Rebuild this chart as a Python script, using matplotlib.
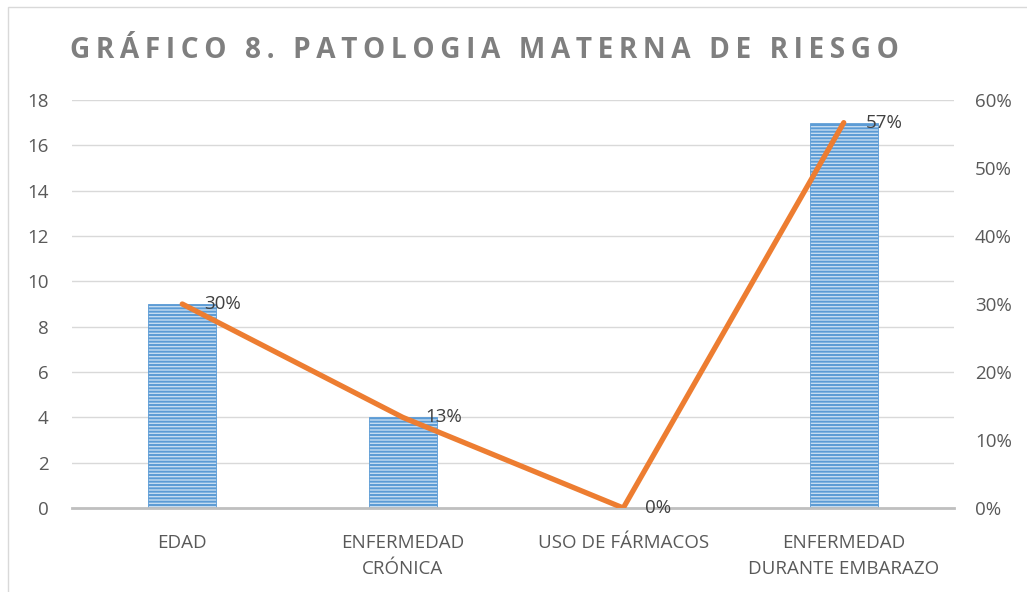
import numpy as np
import matplotlib.pyplot as plt
import matplotlib.ticker as mtick

categorias = ["EDAD", "ENFERMEDAD\nCRÓNICA", "USO DE FÁRMACOS", "ENFERMEDAD\nDURANTE EMBARAZO"]
casos = [9, 4, 0, 17]
porcentaje = [0.30, 0.1333, 0.0, 0.5667]
etiquetas = ["30%", "13%", "0%", "57%"]

plt.rcParams['font.family'] = ['Open Sans', 'DejaVu Sans']
plt.rcParams['hatch.color'] = '#5b9bd5'
plt.rcParams['hatch.linewidth'] = 1.4

fig = plt.figure(figsize=(10.27, 5.92), dpi=100)
ax = fig.add_axes([72/1027, 1-508/592, (954-72)/1027, 408/592])
x = np.arange(len(categorias))

ax.bar(x, casos, width=0.31, color='#c5dcf1', edgecolor='#5b9bd5', hatch='-----', linewidth=0.6, zorder=2)
ax.set_ylim(0, 18)
ax.set_yticks(range(0, 19, 2))
ax.set_xlim(-0.5, 3.5)
ax.set_xticks(x)
ax.set_xticklabels(categorias, fontsize=13.5, color='#595959', linespacing=1.55)
ax.grid(axis='y', color='#d9d9d9', lw=1, zorder=0)
for s in ['top', 'right', 'left']:
    ax.spines[s].set_visible(False)
ax.spines['bottom'].set_color('#bfbfbf')
ax.spines['bottom'].set_linewidth(2)
ax.tick_params(axis='both', length=0, labelsize=13.5, labelcolor='#595959')
ax.tick_params(axis='y', pad=17)
ax.tick_params(axis='x', pad=19)

ax2 = ax.twinx()
ax2.plot(x, porcentaje, color='#ed7d31', lw=3.8, zorder=3, solid_capstyle='round')
ax2.set_ylim(0, 0.6)
ax2.set_yticks(np.arange(0, 0.61, 0.1))
ax2.yaxis.set_major_formatter(mtick.PercentFormatter(1.0, decimals=0))
for s in ax2.spines.values():
    s.set_visible(False)
ax2.tick_params(axis='y', length=0, labelsize=13.5, labelcolor='#595959', pad=15)
for xi, p, t in zip(x, porcentaje, etiquetas):
    ax2.annotate(t, (xi, p), xytext=(16, 0), textcoords='offset points', va='center', ha='left',
                 fontsize=13.5, color='#404040')

titulo = "\u2009".join("GRÁFICO 8. PATOLOGIA MATERNA DE RIESGO")
fig.text(484/1027, 1-50/592, titulo, ha='center', va='center', fontsize=20.2, fontweight='bold', color='#7f7f7f')

fig.patches.append(plt.Rectangle((8/1027, -0.01), 1.1, 1-7/592+0.01, transform=fig.transFigure,
                                 fill=False, edgecolor='#d9d9d9', lw=1))
plt.savefig("out.png", dpi=100)
